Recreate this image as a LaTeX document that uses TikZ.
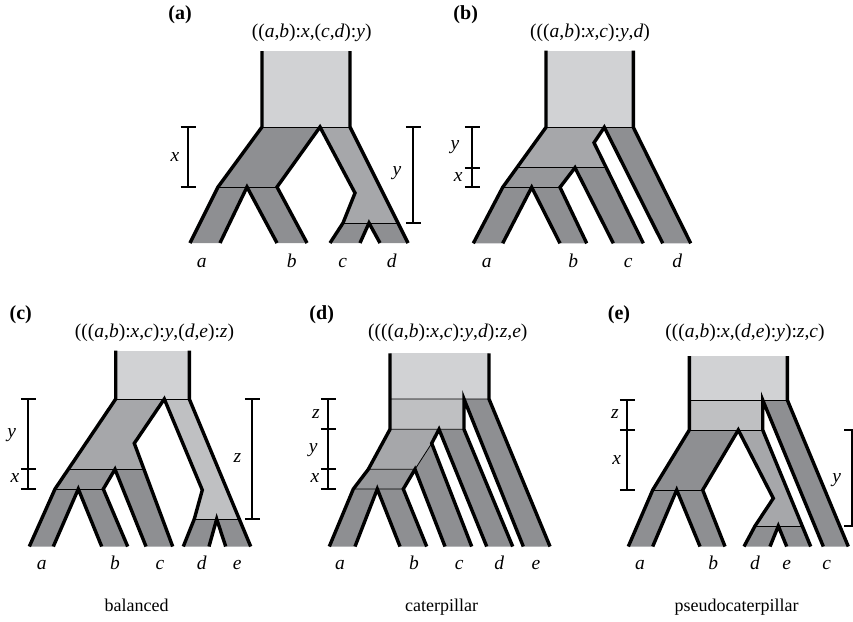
\documentclass[tikz,border=0pt]{standalone}
\usepackage{fontspec}
\setmainfont{Liberation Serif}
\definecolor{rootfill}{HTML}{D1D2D4}
\definecolor{leaffill}{HTML}{8E8F92}
\definecolor{innerdark}{HTML}{97989B}
\definecolor{innermid}{HTML}{A6A7AA}
\definecolor{innerlight}{HTML}{BFC0C2}
\begin{document}
\begin{tikzpicture}[x=1pt, y=-1pt,
  edge/.style={line width=3.4pt},
  sep/.style={line width=0.8pt},
  bar/.style={line width=2.2pt},
  title/.style={anchor=base, font=\fontsize{19.5}{23}\selectfont},
  panel/.style={anchor=base, font=\fontsize{20}{24}\selectfont\bfseries},
  leaf/.style={anchor=base, font=\fontsize{19.5}{23}\selectfont\itshape},
  len/.style={font=\fontsize{19.5}{23}\selectfont\itshape},
  caption/.style={anchor=base, font=\fontsize{18}{22}\selectfont}
  ]
\useasboundingbox (0,0) rectangle (853,621);

% (a)
\fill[rootfill] (262,51) rectangle (350,127);
\fill[leaffill] (262,127) -- (320,127) -- (277,187) -- (218,187) -- cycle;
\fill[innermid] (320,127) -- (350,127) -- (398,223) -- (343,223) -- (355,193) -- cycle;
\fill[leaffill] (218,187) -- (247,187) -- (220,243) -- (190,243) -- cycle;
\fill[leaffill] (247,187) -- (277,187) -- (307,243) -- (277,243) -- cycle;
\fill[leaffill] (343,223) -- (369,223) -- (360,243) -- (330,243) -- cycle;
\fill[leaffill] (369,223) -- (398,223) -- (408,243) -- (380,243) -- cycle;
\draw[sep] (262,127) -- (350,127) (218,187) -- (277,187) (343,223) -- (398,223);
\draw[edge] (262,51) -- (262,127) -- (218,187) -- (190,243);
\draw[edge] (220,243) -- (247,187) -- (277,243);
\draw[edge] (307,243) -- (277,187) -- (320,127) -- (355,193) -- (343,223) -- (330,243);
\draw[edge] (360,243) -- (369,223) -- (380,243);
\draw[edge] (408,243) -- (350,127) -- (350,51);
\draw[bar] (188,127) -- (188,187);
\foreach \t in {127,187} \draw[bar] (180.5,\t) -- (195.5,\t);
\draw[bar] (413.3,127) -- (413.3,223);
\foreach \t in {127,223} \draw[bar] (405.8,\t) -- (420.8,\t);
\node[panel] (labA) at (180,19.5) {(a)};
\node[title] (titA) at (311.7,37) {((\textit{a},\textit{b}):\textit{x},(\textit{c},\textit{d}):\textit{y})};
\node[len] (xA) at (175,157) {x};
\node[len] (yA) at (397,173) {y};
\node[leaf] (aA) at (201.7,267) {a};
\node[leaf] (bA) at (291.7,267) {b};
\node[leaf] (cA) at (342.7,267) {c};
\node[leaf] (dA) at (391.7,267) {d};

% (b)
\fill[rootfill] (546,50.7) rectangle (633.3,127.3);
\fill[innermid] (546,127.3) -- (604.3,127.3) -- (594,142.7) -- (606.3,167.7) -- (517.3,167.7) -- cycle;
\fill[innerdark] (517.3,167.7) -- (575,167.7) -- (560,187.3) -- (502.7,187.3) -- cycle;
\fill[leaffill] (502.7,187.3) -- (531.7,187.3) -- (502.7,243.3) -- (473.3,243.3) -- cycle;
\fill[leaffill] (531.7,187.3) -- (560,187.3) -- (586.7,243.3) -- (560,243.3) -- cycle;
\fill[leaffill] (575,167.7) -- (606.3,167.7) -- (643.3,243.3) -- (613.3,243.3) -- cycle;
\fill[leaffill] (604.3,127.3) -- (633.3,127.3) -- (690.7,243.3) -- (662.7,243.3) -- cycle;
\draw[sep] (546,127.3) -- (633.3,127.3) (517.3,167.7) -- (606.3,167.7) (502.7,187.3) -- (560,187.3);
\draw[edge] (546,50.7) -- (546,127.3) -- (502.7,187.3) -- (473.3,243.3);
\draw[edge] (502.7,243.3) -- (531.7,187.3) -- (560,243.3);
\draw[edge] (586.7,243.3) -- (560,187.3) -- (575,167.7) -- (613.3,243.3);
\draw[edge] (643.3,243.3) -- (594,142.7) -- (604.3,127.3) -- (662.7,243.3);
\draw[edge] (690.7,243.3) -- (633.3,127.3) -- (633.3,50.7);
\draw[bar] (472.3,127.3) -- (472.3,187.3);
\foreach \t in {127.3,167.7,187.3} \draw[bar] (464.8,\t) -- (479.8,\t);
\node[panel] (labB) at (465.7,19.5) {(b)};
\node[title] (titB) at (590,37) {(((\textit{a},\textit{b}):\textit{x},\textit{c}):\textit{y},\textit{d})};
\node[len] (yB) at (455,146.7) {y};
\node[len] (xB) at (458.3,176.7) {x};
\node[leaf] (aB) at (486.7,267) {a};
\node[leaf] (bB) at (573.3,267) {b};
\node[leaf] (cB) at (628.3,267) {c};
\node[leaf] (dB) at (677.3,267) {d};

% (c) balanced
\fill[rootfill] (115.7,350.7) rectangle (189.3,399);
\fill[innermid] (115.7,399) -- (164.3,399) -- (134.3,443.3) -- (144,469.3) -- (68.3,469.3) -- cycle;
\fill[innerdark] (68.3,469.3) -- (115,469.3) -- (103.3,489) -- (55,489) -- cycle;
\fill[leaffill] (55,489) -- (78.3,489) -- (53.3,546.5) -- (29.3,546.5) -- cycle;
\fill[leaffill] (78.3,489) -- (103.3,489) -- (127.7,546.5) -- (101.7,546.5) -- cycle;
\fill[leaffill] (115,469.3) -- (144,469.3) -- (172.7,546.5) -- (146,546.5) -- cycle;
\fill[innerlight] (164.3,399) -- (189.3,399) -- (239.2,519) -- (194.3,519) -- (202.3,490) -- cycle;
\fill[leaffill] (194.3,519) -- (216.7,519) -- (209,546.5) -- (183.3,546.5) -- cycle;
\fill[leaffill] (216.7,519) -- (239.2,519) -- (250.7,546.5) -- (225.7,546.5) -- cycle;
\draw[sep] (115.7,399) -- (189.3,399) (68.3,469.3) -- (144,469.3) (55,489) -- (103.3,489) (194.3,519) -- (239.2,519);
\draw[edge] (115.7,350.7) -- (115.7,399) -- (55,489) -- (29.3,546.5);
\draw[edge] (53.3,546.5) -- (78.3,489) -- (101.7,546.5);
\draw[edge] (127.7,546.5) -- (103.3,489) -- (115,469.3) -- (146,546.5);
\draw[edge] (172.7,546.5) -- (134.3,443.3) -- (164.3,399) -- (202.3,490) -- (194.3,519) -- (183.3,546.5);
\draw[edge] (209,546.5) -- (216.7,519) -- (225.7,546.5);
\draw[edge] (250.7,546.5) -- (189.3,399) -- (189.3,350.7);
\draw[bar] (28.3,399) -- (28.3,489);
\foreach \t in {399,469.3,489} \draw[bar] (20.8,\t) -- (35.8,\t);
\draw[bar] (252.3,399) -- (252.3,519);
\foreach \t in {399,519} \draw[bar] (244.8,\t) -- (259.8,\t);
\node[panel] (labC) at (20.7,319.5) {(c)};
\node[title] (titC) at (154.5,337.3) {(((\textit{a},\textit{b}):\textit{x},\textit{c}):\textit{y},(\textit{d},\textit{e}):\textit{z})};
\node[len] (yC) at (11.7,435) {y};
\node[len] (xC) at (15,477.7) {x};
\node[len] (zC) at (237.3,458.3) {z};
\node[leaf] (aC) at (41.7,569.5) {a};
\node[leaf] (bC) at (115,569.5) {b};
\node[leaf] (cC) at (160,569.5) {c};
\node[leaf] (dC) at (201.7,569.5) {d};
\node[leaf] (eC) at (237.3,569.5) {e};
\node[caption] (capC) at (136.7,611) {balanced};

% (d) caterpillar
\fill[rootfill] (390,353.3) rectangle (489,399);
\fill[innerlight] (390,399) rectangle (464,429.3);
\fill[leaffill] (464,399) -- (489,399) -- (550,546.5) -- (523.3,546.5) -- cycle;
\fill[innermid] (390,429.3) -- (439,429.3) -- (431.7,443.3) -- (415,469.3) -- (368.3,469.3) -- cycle;
\fill[innerdark] (368.3,469.3) -- (415,469.3) -- (403.3,489) -- (353.3,489) -- cycle;
\fill[leaffill] (353.3,489) -- (377.3,489) -- (355,546.5) -- (329.3,546.5) -- cycle;
\fill[leaffill] (377.3,489) -- (403.3,489) -- (426.7,546.5) -- (400,546.5) -- cycle;
\fill[leaffill] (431.7,443.3) -- (471.7,546.5) -- (445,546.5) -- (415,469.3) -- cycle;
\fill[leaffill] (439,429.3) -- (464,429.3) -- (512.7,546.5) -- (486.7,546.5) -- cycle;
\draw[sep] (390,399) -- (489,399) (390,429.3) -- (464,429.3) (368.3,469.3) -- (415,469.3)
  (353.3,489) -- (403.3,489) (431.7,443.3) -- (415,469.3);
\draw[edge] (390,353.3) -- (390,429.3) -- (368.3,469.3) -- (353.3,489) -- (329.3,546.5);
\draw[edge] (355,546.5) -- (377.3,489) -- (400,546.5);
\draw[edge] (426.7,546.5) -- (403.3,489) -- (415,469.3) -- (445,546.5);
\draw[edge] (471.7,546.5) -- (431.7,443.3) -- (439,429.3) -- (486.7,546.5);
\draw[edge] (512.7,546.5) -- (464,429.3) -- (464,399) -- (523.3,546.5);
\draw[edge] (550,546.5) -- (489,399) -- (489,353.3);
\draw[bar] (328.3,399) -- (328.3,489);
\foreach \t in {399,429.3,469.3,489} \draw[bar] (320.8,\t) -- (335.8,\t);
\node[panel] (labD) at (321.7,319.5) {(d)};
\node[title] (titD) at (447.8,337.3) {((((\textit{a},\textit{b}):\textit{x},\textit{c}):\textit{y},\textit{d}):\textit{z},\textit{e})};
\node[len] (zD) at (316,414.3) {z};
\node[len] (yD) at (313.3,450) {y};
\node[len] (xD) at (315,477.7) {x};
\node[leaf] (aD) at (340,569.5) {a};
\node[leaf] (bD) at (414,569.5) {b};
\node[leaf] (cD) at (459.3,569.5) {c};
\node[leaf] (dD) at (499.3,569.5) {d};
\node[leaf] (eD) at (536,569.5) {e};
\node[caption] (capD) at (441.7,611) {caterpillar};

% (e) pseudocaterpillar
\fill[rootfill] (689.3,356) rectangle (787.3,400);
\fill[innerlight] (689.3,400) rectangle (762.7,430);
\fill[leaffill] (762.7,400) -- (787.3,400) -- (848.3,546.5) -- (823.3,546.5) -- cycle;
\fill[leaffill] (689.3,430) -- (738.3,430) -- (702.7,490) -- (652.7,490) -- cycle;
\fill[innermid] (738.3,430) -- (762.7,430) -- (802.2,526) -- (755,526) -- (773.3,498.3) -- cycle;
\fill[leaffill] (652.7,490) -- (676.7,490) -- (652.7,546.5) -- (628.3,546.5) -- cycle;
\fill[leaffill] (676.7,490) -- (702.7,490) -- (725,546.5) -- (700,546.5) -- cycle;
\fill[leaffill] (755,526) -- (778.3,526) -- (770,546.5) -- (744,546.5) -- cycle;
\fill[leaffill] (778.3,526) -- (802.2,526) -- (810.7,546.5) -- (786.7,546.5) -- cycle;
\draw[sep] (689.3,400) -- (787.3,400) (689.3,430) -- (762.7,430) (652.7,490) -- (702.7,490) (755,526) -- (802.2,526);
\draw[edge] (689.3,356) -- (689.3,430) -- (652.7,490) -- (628.3,546.5);
\draw[edge] (652.7,546.5) -- (676.7,490) -- (700,546.5);
\draw[edge] (725,546.5) -- (702.7,490) -- (738.3,430) -- (773.3,498.3) -- (755,526) -- (744,546.5);
\draw[edge] (770,546.5) -- (778.3,526) -- (786.7,546.5);
\draw[edge] (810.7,546.5) -- (762.7,430) -- (762.7,400) -- (823.3,546.5);
\draw[edge] (848.3,546.5) -- (787.3,400) -- (787.3,356);
\draw[bar] (627.3,400) -- (627.3,490);
\foreach \t in {400,430,490} \draw[bar] (619.8,\t) -- (634.8,\t);
\draw[bar] (851.7,430) -- (851.7,526);
\foreach \t in {430,526} \draw[bar] (844.2,\t) -- (859.2,\t);
\node[panel] (labE) at (619,319.5) {(e)};
\node[title] (titE) at (745,337.3) {(((\textit{a},\textit{b}):\textit{x},(\textit{d},\textit{e}):\textit{y}):\textit{z},\textit{c})};
\node[len] (zE) at (615,414.3) {z};
\node[len] (xE) at (616.7,460) {x};
\node[len] (yE) at (836.7,480) {y};
\node[leaf] (aE) at (640,569.5) {a};
\node[leaf] (bE) at (713.3,569.5) {b};
\node[leaf] (dE) at (755,569.5) {d};
\node[leaf] (eE) at (786.7,569.5) {e};
\node[leaf] (cE) at (826.7,569.5) {c};
\node[caption] (capE) at (736.7,611) {pseudocaterpillar};
\end{tikzpicture}
\end{document}
